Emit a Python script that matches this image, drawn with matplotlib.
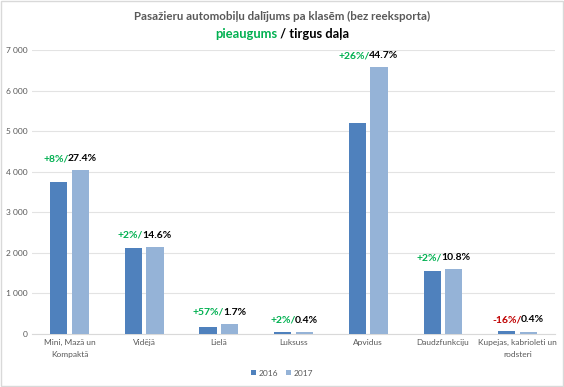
import matplotlib.pyplot as plt
import matplotlib.transforms as mtransforms
from matplotlib.patches import Rectangle
import numpy as np

categories = ['Mini, Mazā un\nKompaktā', 'Vidējā', 'Lielā', 'Luksuss', 'Apvidus',
              'Daudzfunkciju', 'Kupejas, kabrioleti un\nrodsteri']
sales_2016 = [3740, 2110, 160, 58, 5210, 1555, 70]
sales_2017 = [4040, 2150, 250, 59, 6570, 1590, 59]
growth = ['+8%', '+2%', '+57%', '+2%', '+26%', '+2%', '-16%']
share = ['27.4%', '14.6%', '1.7%', '0.4%', '44.7%', '10.8%', '0.4%']

plt.rcParams['font.family'] = ['Lato', 'DejaVu Sans']

c16 = '#4F81BD'
c17 = '#95B3D7'
green = '#00B050'
red = '#C00000'
grey = '#595959'

fig = plt.figure(figsize=(5.64, 3.87), dpi=100)
fig.patches.append(Rectangle((0.002, 0.002), 0.996, 0.996, transform=fig.transFigure,
                             fill=False, edgecolor='#D9D9D9', linewidth=1))
ax = fig.add_axes([0.057, 0.137, 0.927, 0.734])

x = np.arange(len(categories))
w = 0.23
ax.bar(x - 0.145, sales_2016, w, color=c16, label='2016', zorder=3)
ax.bar(x + 0.145, sales_2017, w, color=c17, label='2017', zorder=3)

ax.set_xlim(-0.5, len(categories) - 0.5)
ax.set_ylim(0, 7000)
ax.set_yticks(range(0, 7001, 1000))
ax.set_yticklabels([f'{v:,}'.replace(',', ' ') for v in range(0, 7001, 1000)])
ax.set_xticks(x)
ax.set_xticklabels([])
ax.tick_params(axis='both', length=0, labelsize=6, colors=grey)
ax.grid(axis='y', color='#E3E3E3', linewidth=0.8, zorder=0)
for s in ['top', 'right', 'left']:
    ax.spines[s].set_visible(False)
ax.spines['bottom'].set_color('#D9D9D9')

# category labels (drawn by hand for looser line spacing)
xlab_tr = mtransforms.offset_copy(ax.get_xaxis_transform(), fig, x=0, y=-5, units='dots')
for xi, cat in zip(x, categories):
    ax.text(xi, 0, cat, transform=xlab_tr, ha='center', va='top', fontsize=6,
            color=grey, linespacing=1.75)

fig.canvas.draw()
renderer = fig.canvas.get_renderer()


def two_tone(base, xx, yy, parts, dy=0, squeeze=1.0, **kw):
    # draw pieces of text in different colours, centred together on xx
    texts, widths = [], []
    for s, col in parts:
        t = fig.text(xx, yy, s, color=col, ha='left', va='bottom', transform=base, **kw)
        texts.append(t)
        widths.append(t.get_window_extent(renderer).width - squeeze)
    off = -sum(widths) / 2
    for t, wd in zip(texts, widths):
        t.set_transform(mtransforms.offset_copy(base, fig, x=off, y=dy, units='dots'))
        off += wd


for i in range(len(categories)):
    top = max(sales_2016[i], sales_2017[i])
    gcol = red if growth[i].startswith('-') else green
    two_tone(ax.transData, x[i], top, [(growth[i] + '/', gcol), (share[i], 'black')],
             dy=7, fontsize=7.5, fontweight='bold')

fig.text(0.5, 1 - 16 / 387, 'Pasažieru automobiļu dalījums pa klasēm (bez reeksporta)',
         ha='center', va='center', fontsize=8.3, fontweight='bold', color=grey)
two_tone(fig.transFigure, 0.5, 1 - 40 / 387, [('pieaugums', green), (' / tirgus daļa', 'black')],
         squeeze=0, fontsize=9.3, fontweight='bold')

fig.legend(loc='center', bbox_to_anchor=(0.5, 1 - 373 / 387), ncol=2, frameon=False,
           fontsize=6, handlelength=0.6, handleheight=0.6, handletextpad=0.3,
           columnspacing=0.9, labelcolor=grey)

fig.savefig('out.png', dpi=100)
